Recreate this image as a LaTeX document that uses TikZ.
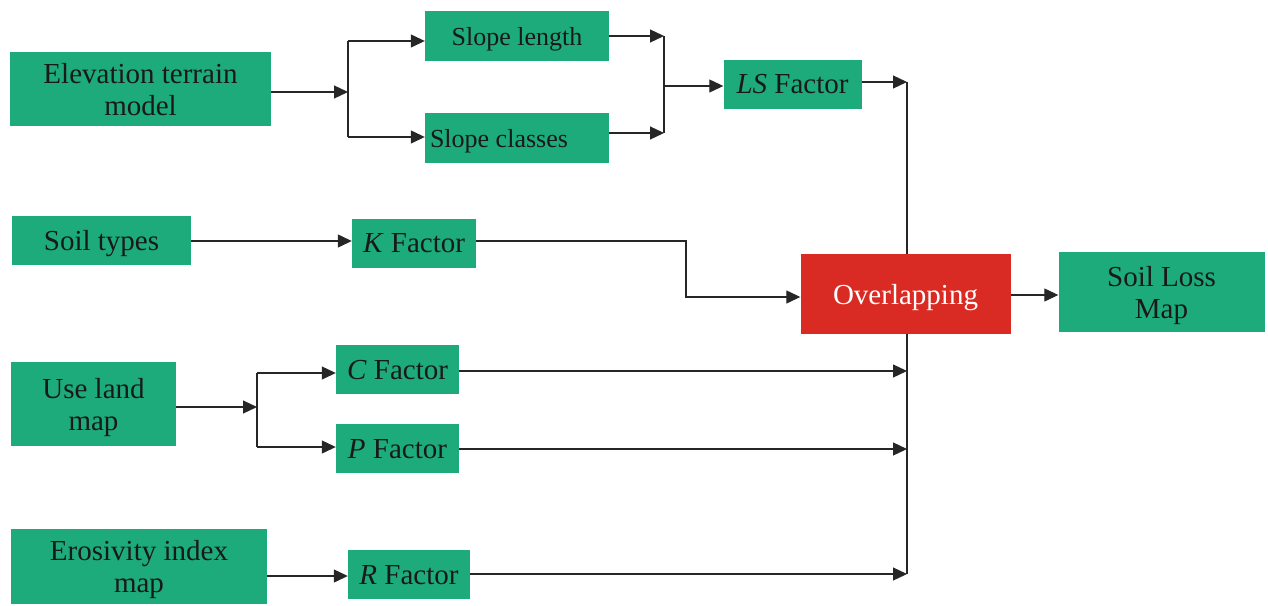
\documentclass[tikz,border=0pt]{standalone}
\usepackage{fontspec}
\setmainfont{Liberation Serif}
\usetikzlibrary{arrows.meta,backgrounds}
\definecolor{boxgreen}{RGB}{29,171,123}
\definecolor{boxred}{RGB}{217,43,35}
\definecolor{txt}{RGB}{25,25,25}
\tikzset{
  gbox/.style={fill=boxgreen, text=txt, inner sep=0pt, align=center, text depth=0pt, font=\fontsize{29}{32}\selectfont},
  sbox/.style={gbox, font=\fontsize{26}{30}\selectfont},
  rbox/.style={fill=boxred, text=white, inner sep=0pt, align=center, text depth=0pt, font=\fontsize{29}{32}\selectfont},
  conn/.style={draw=black!85, line width=1.2pt},
  arr/.style={conn, -{Triangle[length=14pt,width=13pt]}}
}
\begin{document}
\begin{tikzpicture}[x=1pt,y=-1pt]
\useasboundingbox (0,0) rectangle (1268,605);
% nodes
\node[gbox, minimum width=261, minimum height=74] (elev) at (140.5,89) {Elevation terrain\\model};
\node[sbox, minimum width=184, minimum height=50] (slen) at (517,36) {Slope length};
\node[sbox, minimum width=184, minimum height=50] (scls) at (517,138) {\makebox[174pt][l]{Slope classes}};
\node[gbox, minimum width=138, minimum height=49] (ls) at (792.5,84) {\textit{LS} Factor};
\node[gbox, minimum width=179, minimum height=49] (soil) at (101.5,240.5) {Soil types};
\node[gbox, minimum width=124, minimum height=49] (kf) at (414,243.5) {\textit{K} Factor};
\node[rbox, minimum width=210, minimum height=80] (ov) at (905.5,294) {Overlapping};
\node[gbox, minimum width=206, minimum height=80] (slm) at (1161.5,292) {Soil Loss\\Map};
\node[gbox, minimum width=165, minimum height=84] (use) at (93.5,404) {Use land\\map};
\node[gbox, minimum width=123, minimum height=49] (cf) at (397.5,369.5) {\textit{C} Factor};
\node[gbox, minimum width=123, minimum height=49] (pf) at (397.5,448.5) {\textit{P} Factor};
\node[gbox, minimum width=256, minimum height=75] (ero) at (139,566.5) {Erosivity index\\map};
\node[gbox, minimum width=122, minimum height=49] (rf) at (409,574.5) {\textit{R} Factor};
% coordinates
\coordinate (s1) at (348,92);
\coordinate (sA) at (348,41);
\coordinate (sB) at (348,137);
\coordinate (jA) at (664,36);
\coordinate (jB) at (664,133);
\coordinate (jC) at (664,86);
\coordinate (vA) at (907,82);
\coordinate (vB) at (907,574);
\coordinate (vC) at (907,371);
\coordinate (vP) at (907,449);
\coordinate (k1) at (686,241);
\coordinate (k2) at (686,297);
\coordinate (u0) at (257,407);
\coordinate (uA) at (257,373);
\coordinate (uB) at (257,447);
% connectors
\begin{pgfonlayer}{background}
\draw[conn] (vA) -- (vB);
\end{pgfonlayer}
\draw[arr] (elev.east |- s1) -- (s1);
\draw[conn] (sA) -- (sB);
\draw[arr] (sA) -- (slen.west |- sA);
\draw[arr] (sB) -- (scls.west |- sB);
\draw[arr] (slen.east |- jA) -- (jA);
\draw[arr] (scls.east |- jB) -- (jB);
\draw[conn] (jA) -- (jB);
\draw[arr] (jC) -- (ls.west |- jC);
\draw[arr] (ls.east |- vA) -- (vA);
\draw[arr] (soil.east |- k1) -- (kf.west |- k1);
\draw[arr] (kf.east |- k1) -- (k1) -- (k2) -- (ov.west |- k2);
\draw[arr] (ov.east |- 0,295) -- (slm.west |- 0,295);
\draw[arr] (use.east |- u0) -- (u0);
\draw[conn] (uA) -- (uB);
\draw[arr] (uA) -- (cf.west |- uA);
\draw[arr] (uB) -- (pf.west |- uB);
\draw[arr] (cf.east |- vC) -- (vC);
\draw[arr] (pf.east |- vP) -- (vP);
\draw[arr] (rf.east |- vB) -- (vB);
\draw[arr] (ero.east |- 0,576) -- (rf.west |- 0,576);
\end{tikzpicture}
\end{document}
